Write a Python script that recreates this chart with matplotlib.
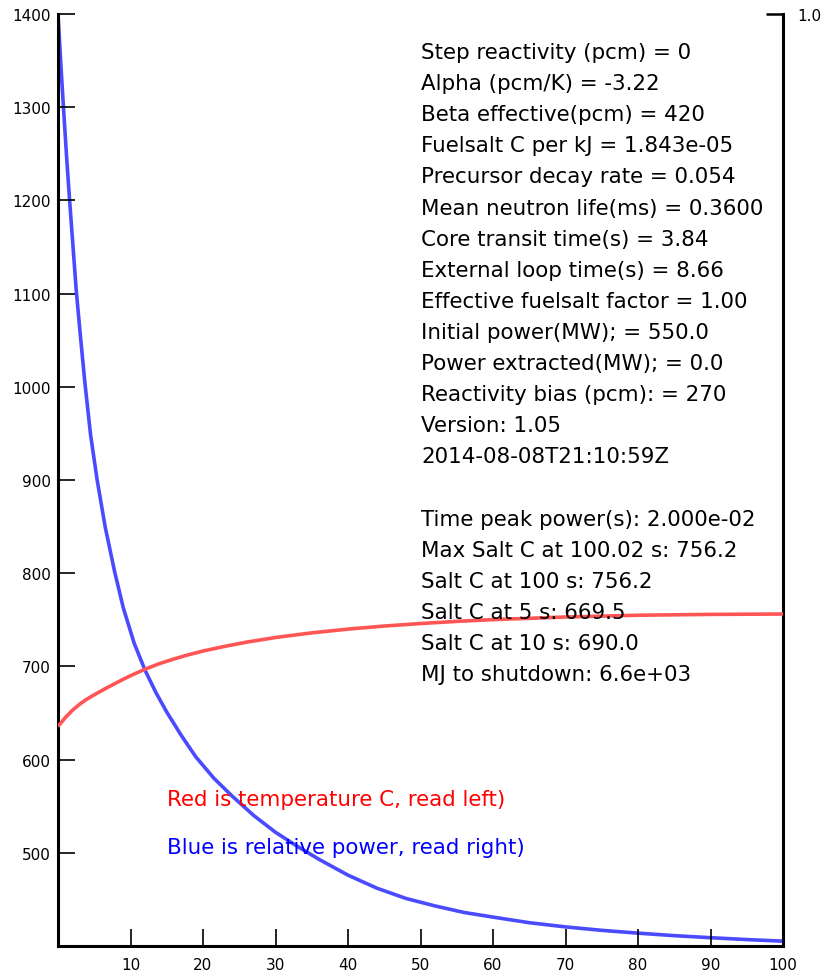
import matplotlib
matplotlib.use('Agg')
import matplotlib.pyplot as plt

# temperature (C) of the fuel salt
timeT = [0, 1, 2, 3, 4, 5, 6, 7, 8, 9, 10, 12, 14, 16, 18, 20, 23, 26, 30, 35, 40,
         45, 50, 55, 60, 70, 80, 90, 100]
tempC = [635.5, 645, 653, 659.5, 665, 669.5, 673.9, 678.1, 682.2, 686.2, 690, 697, 703,
         708, 712.5, 716.5, 721.5, 726, 731, 736, 740, 743.3, 746, 748.3, 750.2, 753,
         754.9, 755.8, 756.2]

# relative power
timeP = [0, 0.4, 0.75, 1.2, 1.6, 2.0, 2.5, 3.0, 3.7, 4.5, 5.4, 6.5, 7.8, 9.0, 10.5, 12,
         13.5, 15, 17, 19, 21.5, 24, 27, 30, 33, 36, 40, 44, 48, 52, 56, 60, 65, 70, 75,
         80, 85, 90, 95, 100]
power = [1.0, 0.945, 0.90, 0.845, 0.80, 0.758, 0.705, 0.662, 0.605, 0.548, 0.50, 0.450,
         0.402, 0.363, 0.325, 0.296, 0.272, 0.251, 0.226, 0.203, 0.180, 0.161, 0.140,
         0.122, 0.107, 0.093, 0.076, 0.062, 0.051, 0.043, 0.036, 0.031, 0.025, 0.0205,
         0.0168, 0.0138, 0.0111, 0.0089, 0.0069, 0.0052]

xticks = [10, 20, 30, 40, 50, 60, 70, 80, 90, 100]
yticks = [500, 600, 700, 800, 900, 1000, 1100, 1200, 1300, 1400]

info = [
    'Step reactivity (pcm) = 0',
    'Alpha (pcm/K) = -3.22',
    'Beta effective(pcm) = 420',
    'Fuelsalt C per kJ = 1.843e-05',
    'Precursor decay rate = 0.054',
    'Mean neutron life(ms) = 0.3600',
    'Core transit time(s) = 3.84',
    'External loop time(s) = 8.66',
    'Effective fuelsalt factor = 1.00',
    'Initial power(MW); = 550.0',
    'Power extracted(MW); = 0.0',
    'Reactivity bias (pcm): = 270',
    'Version: 1.05',
    '2014-08-08T21:10:59Z',
    '',
    'Time peak power(s): 2.000e-02',
    'Max Salt C at 100.02 s: 756.2',
    'Salt C at 100 s: 756.2',
    'Salt C at 5 s: 669.5',
    'Salt C at 10 s: 690.0',
    'MJ to shutdown: 6.6e+03',
]

W, H = 825, 978
fig = plt.figure(figsize=(W / 100, H / 100), dpi=100)
ax = fig.add_axes([58 / W, 1 - 947 / H, (783 - 58) / W, (947 - 15) / H])
ax2 = ax.twinx()

ax.plot(timeT, tempC, color='#ff5555', lw=2.6, solid_capstyle='butt', zorder=3)
ax2.plot(timeP, power, color='#4a4aff', lw=2.6, solid_capstyle='butt', zorder=3)

ax.set_xlim(0, 100)
ax.set_ylim(400, 1400)
ax2.set_ylim(0, 1.0)
ax.set_xticks(xticks)
ax.set_xticklabels([str(v) for v in xticks])
ax.set_yticks(yticks)
ax.set_yticklabels([str(v) for v in yticks])
ax2.set_yticks([1.0])
ax2.set_yticklabels(['1.0'])

for a in (ax, ax2):
    a.spines['top'].set_visible(False)
    for s in ('left', 'bottom', 'right'):
        a.spines[s].set_linewidth(2.2)
    a.tick_params(direction='in', length=12, width=1.2, labelsize=11, pad=8)
ax.tick_params(axis='y', pad=5)
ax.spines['right'].set_visible(False)
ax2.spines['left'].set_visible(False)
ax2.spines['bottom'].set_visible(False)
ax2.tick_params(axis='y', width=1.8, pad=10)
ax.set_zorder(ax2.get_zorder() + 1)
ax.patch.set_visible(False)

# parameter text block
y0 = 53
for i, line in enumerate(info):
    fig.text(421 / W, 1 - (y0 + i * 31.1) / H, line, fontsize=15.4, va='center', ha='left')

fig.text(167 / W, 1 - 800 / H, 'Red is temperature C, read left)', color='red',
         fontsize=15.4, va='center')
fig.text(167 / W, 1 - 848 / H, 'Blue is relative power, read right)', color='blue',
         fontsize=15.4, va='center')

fig.savefig('out.png', dpi=100)
